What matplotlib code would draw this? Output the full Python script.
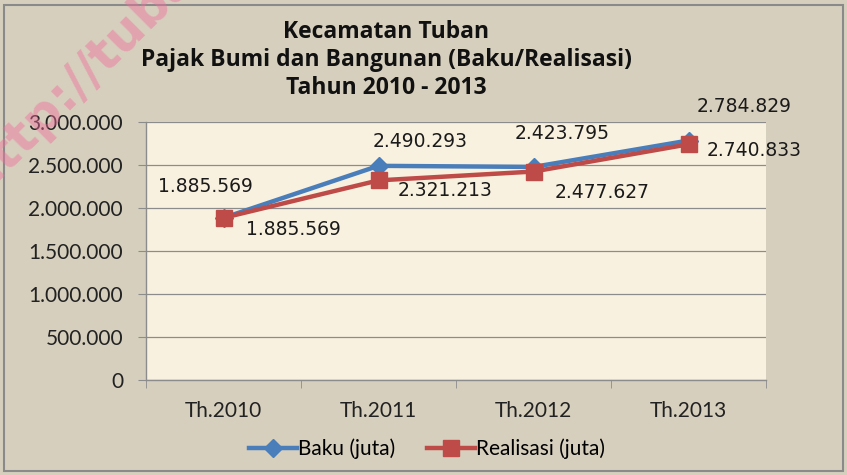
import matplotlib
matplotlib.use("Agg")
import matplotlib.pyplot as plt
from matplotlib.ticker import FuncFormatter, FixedLocator
from matplotlib.patches import Rectangle

categories = ["Th.2010", "Th.2011", "Th.2012", "Th.2013"]
baku = [1885569, 2490293, 2477627, 2784829]
realisasi = [1885569, 2321213, 2423795, 2740833]
baku_labels = ["1.885.569", "2.490.293", "2.423.795", "2.784.829"]
realisasi_labels = ["1.885.569", "2.321.213", "2.477.627", "2.740.833"]
yticks = [0, 500000, 1000000, 1500000, 2000000, 2500000, 3000000]
title_lines = ["Kecamatan Tuban", "Pajak Bumi dan Bangunan (Baku/Realisasi)", "Tahun 2010 - 2013"]

W, H = 847, 475
fig = plt.figure(figsize=(W / 100, H / 100), dpi=100)
fig.patch.set_facecolor("#d6cfbd")

# outer border
fig.patches.append(Rectangle((4 / W, 4 / H), (W - 8) / W, (H - 9) / H, transform=fig.transFigure,
                             fill=False, edgecolor="#8a8a8a", linewidth=1.5))

# axes: left 146, right 766, top 122, bottom 380
ax = fig.add_axes([146 / W, 1 - 380 / H, (766 - 146) / W, (380 - 122) / H])
ax.set_facecolor("#f9f1df")

x = list(range(len(categories)))
ax.plot(x, baku, color="#4a7ebb", linewidth=3.2, marker="D", markersize=9,
        markerfacecolor="#4a7ebb", markeredgecolor="#4a7ebb", label="Baku (juta)", zorder=3)
ax.plot(x, realisasi, color="#be4b48", linewidth=3.2, marker="s", markersize=12,
        markerfacecolor="#be4b48", markeredgecolor="#be4b48", label="Realisasi (juta)", zorder=4)

ax.set_xlim(-0.5, len(categories) - 0.5)
ax.set_ylim(0, 3000000)
ax.set_yticks(yticks)
ax.yaxis.set_major_formatter(FuncFormatter(lambda v, p: f"{int(v):,}".replace(",", ".")))
ax.grid(axis="y", color="#8c8c8c", linewidth=0.9)
ax.set_axisbelow(True)

ax.set_xticks(x)
ax.set_xticklabels(categories)
ax.xaxis.set_minor_locator(FixedLocator([i - 0.5 for i in range(len(categories) + 1)]))
ax.tick_params(axis="x", which="major", length=0, pad=15, labelsize=15, labelcolor="#222222")
ax.tick_params(axis="x", which="minor", length=5.5, color="#8c8c8c", direction="out")
ax.tick_params(axis="y", length=5.5, color="#8c8c8c", pad=11, labelsize=15, labelcolor="#222222")
for lab in ax.get_xticklabels() + ax.get_yticklabels():
    lab.set_family("Lato")

for s in ["top", "right"]:
    ax.spines[s].set_visible(False)
for s in ["left", "bottom"]:
    ax.spines[s].set_color("#8c8c8c")
    ax.spines[s].set_linewidth(1)

px = 0.72
baku_off = [(-18, 31), (42, 24), (29, 33), (56, 34)]
real_off = [(70, -12), (67, -10), (69, -21), (66, -6)]
for i in x:
    ax.annotate(baku_labels[i], (i, baku[i]), xytext=(baku_off[i][0] * px, baku_off[i][1] * px),
                textcoords="offset points", ha="center", va="center", fontsize=13.5,
                color="#1a1a1a", family="DejaVu Sans", zorder=5)
    ax.annotate(realisasi_labels[i], (i, realisasi[i]), xytext=(real_off[i][0] * px, real_off[i][1] * px),
                textcoords="offset points", ha="center", va="center", fontsize=13.5,
                color="#1a1a1a", family="DejaVu Sans", zorder=5)

# title
title_y = [32, 60, 88]
for t, yy in zip(title_lines, title_y):
    fig.text(386 / W, 1 - yy / H, t, ha="center", va="center", fontsize=16.5,
             fontweight="bold", family="Open Sans", color="#111111")

# legend
leg = fig.legend(loc="center", bbox_to_anchor=(427 / W, 1 - 449 / H), ncol=2, frameon=False,
                 handlelength=2.3, handletextpad=0.05, columnspacing=1.5,
                 prop={"family": "Lato", "size": 15})

# watermark
fig.text(-18 / W, 1 - 195 / H, "http://tuba", rotation=45, rotation_mode="anchor",
         ha="left", va="baseline", fontsize=36, fontweight="bold", color="#f06d9c",
         alpha=0.45, family="DejaVu Sans")

fig.savefig("out.png", dpi=100, facecolor=fig.get_facecolor())
